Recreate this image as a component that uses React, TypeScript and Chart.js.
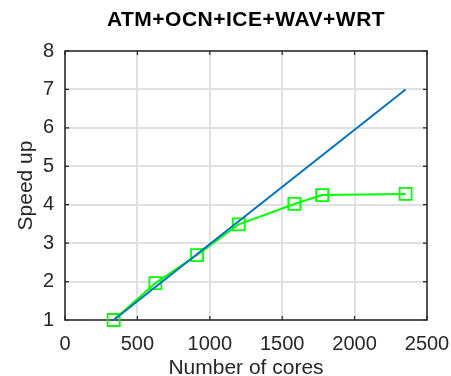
import React, { useEffect, useRef } from 'react';
import { Chart, registerables } from 'chart.js';

Chart.register(...registerables);

// ---- data ----
const coreCounts = [336, 624, 912, 1200, 1584, 1776, 2352];
const measuredSpeedup = [1, 1.96, 2.69, 3.49, 4.02, 4.25, 4.28];
const idealCores = [336, 2352];
const idealSpeedup = [1, 7];
const xTickValues = [0, 500, 1000, 1500, 2000, 2500];
const yTickValues = [1, 2, 3, 4, 5, 6, 7, 8];
const titleText = 'ATM+OCN+ICE+WAV+WRT';
const xLabel = 'Number of cores';
const yLabel = 'Speed up';

const FONT = '"Liberation Sans", Arial, Helvetica, sans-serif';
const AXIS_COLOR = '#262626';
const GRID_COLOR = '#e0e0e0';

const boxPlugin = {
  id: 'boxPlugin',
  beforeDatasetsDraw(chart: any) {
    const { ctx, chartArea, scales } = chart;
    const { left, right, top, bottom } = chartArea;
    ctx.save();
    ctx.strokeStyle = AXIS_COLOR;
    ctx.lineWidth = 1.5;
    ctx.strokeRect(left, top, right - left, bottom - top);
    ctx.lineWidth = 1.2;
    const tl = 4;
    ctx.beginPath();
    scales.x.ticks.forEach((t: any) => {
      const px = scales.x.getPixelForValue(t.value);
      ctx.moveTo(px, bottom);
      ctx.lineTo(px, bottom - tl);
      ctx.moveTo(px, top);
      ctx.lineTo(px, top + tl);
    });
    scales.y.ticks.forEach((t: any) => {
      const py = scales.y.getPixelForValue(t.value);
      ctx.moveTo(left, py);
      ctx.lineTo(left + tl, py);
      ctx.moveTo(right, py);
      ctx.lineTo(right - tl, py);
    });
    ctx.stroke();
    ctx.restore();
  },
  afterDraw(chart: any) {
    const { ctx, chartArea } = chart;
    ctx.save();
    ctx.font = `bold 21px ${FONT}`;
    ctx.fillStyle = '#000000';
    ctx.textAlign = 'center';
    ctx.textBaseline = 'alphabetic';
    try {
      (ctx as any).letterSpacing = '0.5px';
    } catch (e) {}
    ctx.fillText(titleText, (chartArea.left + chartArea.right) / 2, 26);
    ctx.restore();
  },
};

export default function App() {
  const canvasRef = useRef<HTMLCanvasElement | null>(null);

  useEffect(() => {
    document.body.style.margin = '0';
    document.body.style.background = '#ffffff';
    const canvas = canvasRef.current;
    if (!canvas) return;
    const chart = new Chart(canvas, {
      type: 'scatter',
      data: {
        datasets: [
          {
            label: 'ideal',
            data: idealCores.map((x, i) => ({ x, y: idealSpeedup[i] })),
            showLine: true,
            borderColor: '#0072BD',
            borderWidth: 2,
            pointRadius: 0,
            fill: false,
            clip: false,
          },
          {
            label: 'measured',
            data: coreCounts.map((x, i) => ({ x, y: measuredSpeedup[i] })),
            showLine: true,
            borderColor: '#00FF00',
            borderWidth: 2,
            pointStyle: 'rect',
            pointRadius: 8.5,
            pointBorderWidth: 1.8,
            pointBorderColor: '#00FF00',
            pointBackgroundColor: 'rgba(0,0,0,0)',
            fill: false,
            clip: false,
          },
        ],
      },
      options: {
        responsive: false,
        animation: false,
        devicePixelRatio: 1,
        layout: { padding: { left: 0, right: 24, top: 51, bottom: 0 } },
        plugins: {
          legend: { display: false },
          tooltip: { enabled: false },
          title: { display: false },
        },
        scales: {
          x: {
            type: 'linear',
            min: 0,
            max: 2500,
            afterBuildTicks: (s: any) => {
              s.ticks = xTickValues.map((v) => ({ value: v }));
            },
            afterFit: (s: any) => {
              s.height = 56;
              s.paddingLeft = 0;
              s.paddingRight = 0;
            },
            grid: { color: GRID_COLOR, lineWidth: 2, drawTicks: false },
            border: { display: false },
            ticks: {
              color: AXIS_COLOR,
              padding: 12,
              maxRotation: 0,
              font: { family: FONT, size: 20 },
              callback: (v: any) => String(v),
            },
            title: {
              display: true,
              text: xLabel,
              color: AXIS_COLOR,
              font: { family: FONT, size: 21, lineHeight: 0.75 },
              padding: { top: 0, bottom: 0 },
            },
          },
          y: {
            type: 'linear',
            min: 1,
            max: 8,
            afterBuildTicks: (s: any) => {
              s.ticks = yTickValues.map((v) => ({ value: v }));
            },
            afterFit: (s: any) => {
              s.width = 65;
              s.paddingTop = 0;
              s.paddingBottom = 0;
            },
            grid: { color: GRID_COLOR, lineWidth: 2, drawTicks: false },
            border: { display: false },
            ticks: {
              color: AXIS_COLOR,
              padding: 11,
              font: { family: FONT, size: 20 },
              callback: (v: any) => String(v),
            },
            title: {
              display: true,
              text: yLabel,
              color: AXIS_COLOR,
              font: { family: FONT, size: 21, lineHeight: 1.2 },
              padding: { top: 14, bottom: 0 },
            },
          },
        },
      },
      plugins: [boxPlugin],
    } as any);
    return () => chart.destroy();
  }, []);

  return (
    <div style={{ width: 451, height: 376, background: '#ffffff' }}>
      <canvas ref={canvasRef} width={451} height={376} style={{ display: 'block' }} />
    </div>
  );
}
